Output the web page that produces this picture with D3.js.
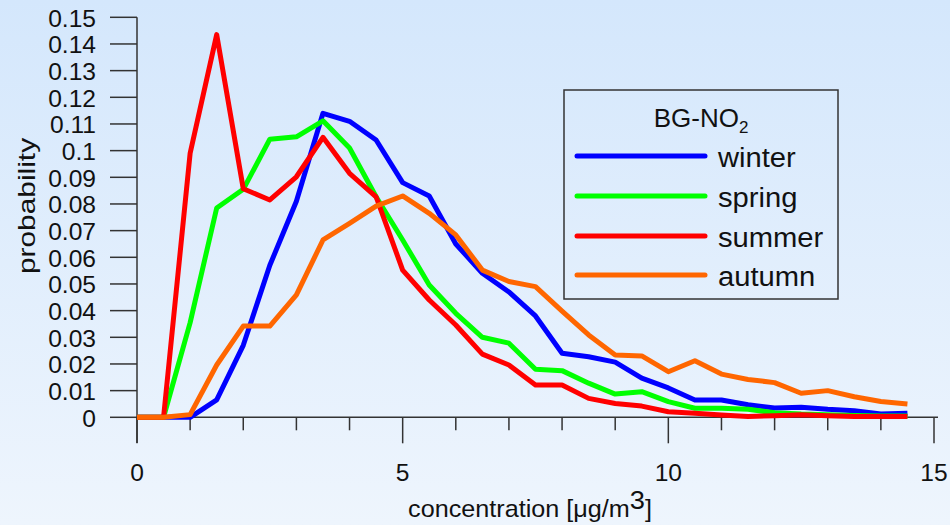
<!DOCTYPE html>
<html>
<head>
<meta charset="utf-8">
<script src="https://cdn.jsdelivr.net/npm/d3@7"></script>
<style>
  html, body { margin: 0; padding: 0; }
  svg { display: block; font-family: "Liberation Sans", Arial, sans-serif; }
</style>
</head>
<body>
<script>
// ---- data ----
const concentration = d3.range(0, 15, 0.5); // 0 .. 14.5 step 0.5 (bin positions)
const winter = [0, 0, 0, 0.0065, 0.027, 0.057, 0.081, 0.114, 0.111, 0.104, 0.088, 0.083, 0.065, 0.054, 0.047, 0.038, 0.024, 0.0227, 0.0207, 0.0147, 0.011, 0.0065, 0.0065, 0.0047, 0.0035, 0.0038, 0.003, 0.0025, 0.0012, 0.0015];
const spring = [0, 0, 0.0355, 0.0785, 0.0855, 0.1043, 0.1052, 0.1112, 0.101, 0.0827, 0.0665, 0.0496, 0.039, 0.030, 0.0278, 0.018, 0.0175, 0.0128, 0.0087, 0.0096, 0.0059, 0.0034, 0.0034, 0.003, 0.0017, 0.0012, 0.001, 0.0007, 0.0005, 0.0005];
const summer = [0, 0, 0.099, 0.1435, 0.0857, 0.0815, 0.0902, 0.105, 0.0915, 0.0827, 0.0552, 0.044, 0.0346, 0.0237, 0.0196, 0.0121, 0.0121, 0.0071, 0.0052, 0.0042, 0.0021, 0.0015, 0.0009, 0.0003, 0.0006, 0.001, 0.0006, 0.0003, 0.0003, 0.0003];
const autumn = [0, 0, 0.001, 0.0196, 0.0342, 0.0342, 0.0459, 0.0665, 0.0727, 0.0792, 0.083, 0.0765, 0.0684, 0.0552, 0.0509, 0.049, 0.0398, 0.0309, 0.0234, 0.023, 0.0171, 0.0212, 0.0162, 0.0142, 0.013, 0.009, 0.01, 0.0077, 0.0059, 0.005];
const seriesNames = ["winter", "spring", "summer", "autumn"];
const seriesColors = ["#0000ff", "#00ff00", "#ff0000", "#ff6600"];
const yTicks = d3.range(0, 0.1501, 0.01);
const yTickLabels = ["0", "0.01", "0.02", "0.03", "0.04", "0.05", "0.06", "0.07", "0.08", "0.09", "0.1", "0.11", "0.12", "0.13", "0.14", "0.15"];
const xMajorTicks = [0, 5, 10, 15];
const xMinorTicks = d3.range(0, 16, 1);

const W = 950, H = 525;
const svg = d3.select("body").append("svg").attr("width", W).attr("height", H);

// background gradient
const defs = svg.append("defs");
const grad = defs.append("linearGradient").attr("id", "bg").attr("x1", 0).attr("y1", 0).attr("x2", 0).attr("y2", 1);
grad.append("stop").attr("offset", "0%").attr("stop-color", "#d4e7fc");
grad.append("stop").attr("offset", "100%").attr("stop-color", "#eef5fd");
svg.append("rect").attr("width", W).attr("height", H).attr("fill", "url(#bg)");

const x = d3.scaleLinear().domain([0, 15]).range([137, 934]);
const y = d3.scaleLinear().domain([0, 0.15]).range([417.3, 17.3]);

const axisColor = "#333";

function stext(g, tx, ty, str, size, anchor, sx) {
  return g.append("text")
    .attr("transform", `translate(${tx},${ty}) scale(${sx},1)`)
    .attr("font-size", size)
    .attr("text-anchor", anchor || "start")
    .attr("fill", "#111")
    .text(str);
}

// y axis
const gy = svg.append("g");
gy.append("line").attr("x1", 137).attr("x2", 137).attr("y1", y(0.15)).attr("y2", 443)
  .attr("stroke", axisColor).attr("stroke-width", 1.5);
yTicks.forEach((t, i) => {
  gy.append("line").attr("x1", 110).attr("x2", 137).attr("y1", y(t)).attr("y2", y(t))
    .attr("stroke", axisColor).attr("stroke-width", 1.5);
  stext(gy, 96, y(t) + 9.5, yTickLabels[i], 23, "end", 1.07);
});

// x axis
const gx = svg.append("g");
gx.append("line").attr("x1", 137).attr("x2", 938).attr("y1", y(0)).attr("y2", y(0))
  .attr("stroke", axisColor).attr("stroke-width", 1.5);
xMinorTicks.forEach(t => {
  const major = xMajorTicks.includes(t);
  gx.append("line").attr("x1", x(t)).attr("x2", x(t)).attr("y1", y(0)).attr("y2", y(0) + (major ? 26 : 13))
    .attr("stroke", axisColor).attr("stroke-width", 1.5);
});
xMajorTicks.forEach(t => {
  stext(gx, x(t), 481, String(t), 23, "middle", 1.07);
});

// axis titles
const xl = svg.append("text")
  .attr("transform", `translate(530,517) scale(1.05,1)`)
  .attr("font-size", 24).attr("text-anchor", "middle").attr("fill", "#111");
xl.append("tspan").text("concentration [\u03bcg/m");
xl.append("tspan").attr("dy", -8).attr("font-size", 26).text("3");
xl.append("tspan").attr("dy", 8).text("]");

svg.append("text")
  .attr("transform", `translate(35,206) rotate(-90) scale(1.3,1)`)
  .attr("font-size", 23).attr("text-anchor", "middle").attr("fill", "#111")
  .text("probability");

// lines
const allSeries = [winter, spring, summer, autumn];
const line = d3.line().x((d, i) => x(concentration[i])).y(d => y(d));
const gl = svg.append("g");
allSeries.forEach((s, k) => {
  gl.append("path").datum(s).attr("d", line)
    .attr("fill", "none").attr("stroke", seriesColors[k]).attr("stroke-width", 5)
    .attr("stroke-linejoin", "round").attr("stroke-linecap", "butt");
});

// legend
const lg = svg.append("g");
lg.append("rect").attr("x", 564).attr("y", 90).attr("width", 274).attr("height", 209)
  .attr("fill", "none").attr("stroke", axisColor).attr("stroke-width", 1.5);
const title = lg.append("text")
  .attr("transform", `translate(701,127)`)
  .attr("font-size", 26).attr("text-anchor", "middle").attr("fill", "#111");
title.append("tspan").text("BG-NO");
title.append("tspan").attr("dy", 6).attr("font-size", 17).text("2");
const legendY = [156, 196, 236, 275];
seriesNames.forEach((n, k) => {
  lg.append("line").attr("x1", 577).attr("x2", 705).attr("y1", legendY[k]).attr("y2", legendY[k])
    .attr("stroke", seriesColors[k]).attr("stroke-width", 5).attr("stroke-linecap", "round");
  stext(lg, 718, legendY[k] + 11, n, 27, "start", 1.08);
});
</script>
</body>
</html>
